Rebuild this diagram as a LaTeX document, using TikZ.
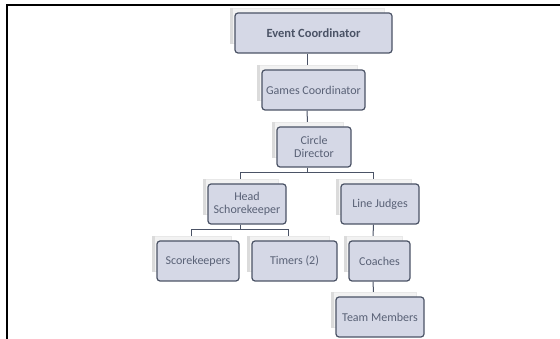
\documentclass[tikz,border=0pt]{standalone}
\usepackage{fontspec}
\setmainfont{Carlito}
\usetikzlibrary{positioning}
\pgfdeclarelayer{background}
\pgfdeclarelayer{panels}
\pgfsetlayers{background,panels,main}
\definecolor{boxfill}{HTML}{D5D8E6}
\definecolor{boxline}{HTML}{4B5366}
\definecolor{boxtext}{HTML}{596176}

\begin{document}
\begin{tikzpicture}[x=1pt,y=-1pt,
        rolenode/.style={rectangle, rounded corners=3pt, draw=boxline, line width=1.2pt, fill=boxfill,
                text=boxtext, font=\fontsize{12}{13}\selectfont, align=center,
                minimum height=40pt, inner sep=2pt},
        headnode/.style={rolenode, font=\fontsize{12.5}{13}\selectfont\bfseries, text=boxline},
        link/.style={draw=boxline, line width=1pt}]

        \useasboundingbox (0,0) rectangle (560,339);
        \draw[line width=2pt] (7,339) -- (7,5) -- (560,5);

        \node[headnode, minimum width=157pt] (ec) at (313.5,33) {Event Coordinator};
        \node[rolenode, minimum width=103pt] (gc) at (313.5,90) {Games Coordinator};
        \node[rolenode, minimum width=74pt] (cd) at (314,147) {Circle\\Director};
        \node[rolenode, minimum width=78pt] (hs) at (247,204) {Head\\Schorekeeper};
        \node[rolenode, minimum width=78pt] (lj) at (380,204) {Line Judges};
        \node[rolenode, minimum width=82pt] (sk) at (198,261) {Scorekeepers};
        \node[rolenode, minimum width=85pt] (tm) at (294.5,261) {Timers (2)};
        \node[rolenode, minimum width=61pt] (co) at (379.5,261) {Coaches};
        \node[rolenode, minimum width=88pt] (team) at (380,317) {Team Members};

        % panels behind the boxes
        \begin{pgfonlayer}{panels}
        \foreach \n in {ec,gc,cd,hs,lj,sk,tm,co,team} {
            \filldraw[fill=gray!10, draw=gray!18, line width=0.8pt] ([xshift=-4pt,yshift=4pt]\n.north west) rectangle ([xshift=-8pt,yshift=10pt]\n.south east);
            \draw[gray!28, line width=2.5pt] ([xshift=-3pt,yshift=4pt]\n.north west) -- ([xshift=-3pt,yshift=10pt]\n.south west);
        }
        \end{pgfonlayer}

        % connectors
        \begin{pgfonlayer}{background}
        \draw[link] ([xshift=-6.5pt]ec.south) -- ([xshift=-6.5pt,yshift=4pt]gc.north);
        \draw[link] ([xshift=-6.5pt]gc.south) -- ([xshift=-6.5pt,yshift=4pt]cd.north);
        \draw[link] ([xshift=-6.5pt]cd.south) -- ++(0,5)
            -| ([xshift=-6.5pt,yshift=4pt]hs.north);
        \draw[link] ([xshift=-6.5pt]cd.south) -- ++(0,5)
            -| ([xshift=-6.5pt,yshift=4pt]lj.north);
        \draw[link] ([xshift=-6.5pt]hs.south) -- ++(0,5)
            -| ([xshift=-6.5pt,yshift=4pt]sk.north);
        \draw[link] ([xshift=-6.5pt]hs.south) -- ++(0,5)
            -| ([xshift=-6.5pt,yshift=4pt]tm.north);
        \draw[link] ([xshift=-6.5pt]lj.south) -- ([xshift=-6.5pt,yshift=4pt]co.north);
        \draw[link] ([xshift=-6.5pt]co.south) -- ([xshift=-6.5pt,yshift=4pt]team.north);
        \end{pgfonlayer}

\end{tikzpicture}
\end{document}
